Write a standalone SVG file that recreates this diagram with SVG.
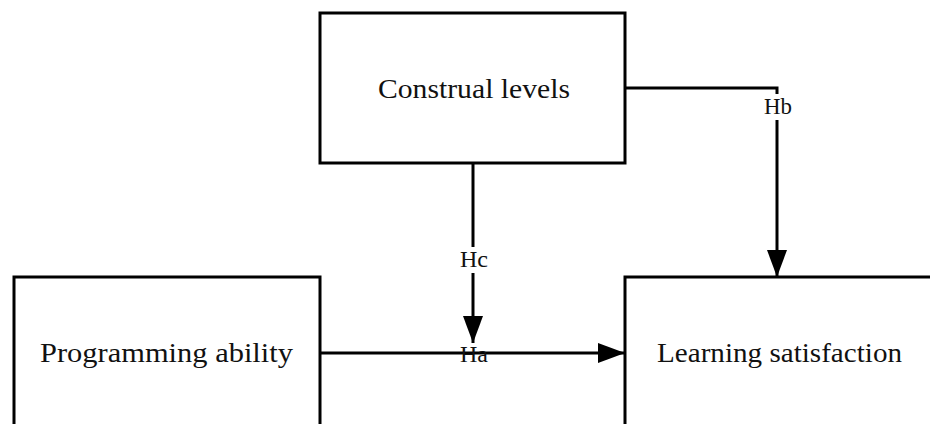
<svg xmlns="http://www.w3.org/2000/svg" width="930" height="424" viewBox="0 0 930 424">
<style>
.box{fill:#fff;stroke:#000;stroke-width:3}
.t{font-family:"Liberation Serif","Times New Roman",serif;font-size:27px;fill:#111}
.l{font-family:"Liberation Serif","Times New Roman",serif;font-size:23px;fill:#111;text-anchor:middle}
.c{fill:none;stroke:#000;stroke-width:3}
</style>
<defs>
<marker id="ah" markerWidth="27" markerHeight="20" refX="27" refY="10" orient="auto" markerUnits="userSpaceOnUse">
<path d="M0,0 L27,10 L0,20 Z" fill="#000"/>
</marker>
</defs>
<rect width="930" height="424" fill="#fff"/>
<g id="connectors">
<path class="c" d="M625,88 H777 V94"/>
<path class="c" d="M777,120 V277" marker-end="url(#ah)"/>
<path class="c" d="M473,163 V247"/>
<path class="c" d="M473,273 V343" marker-end="url(#ah)"/>
<path class="c" d="M320,353 H625" marker-end="url(#ah)"/>
<text class="l" x="778" y="114" textLength="28" lengthAdjust="spacingAndGlyphs">Hb</text>
<text class="l" x="474" y="267" textLength="28" lengthAdjust="spacingAndGlyphs">Hc</text>
<text class="l" x="474" y="362" textLength="28" lengthAdjust="spacingAndGlyphs">Ha</text>
</g>
<g id="construal">
<rect class="box" x="320" y="13" width="305" height="150"/>
<text class="t" x="378" y="98" textLength="192" lengthAdjust="spacingAndGlyphs">Construal levels</text>
</g>
<g id="programming">
<rect class="box" x="14" y="277" width="306" height="160"/>
<text class="t" x="40" y="362" textLength="253" lengthAdjust="spacingAndGlyphs">Programming  ability</text>
</g>
<g id="satisfaction">
<rect class="box" x="625" y="277" width="320" height="160"/>
<text class="t" x="657" y="362" textLength="245" lengthAdjust="spacingAndGlyphs">Learning satisfaction</text>
</g>
</svg>
